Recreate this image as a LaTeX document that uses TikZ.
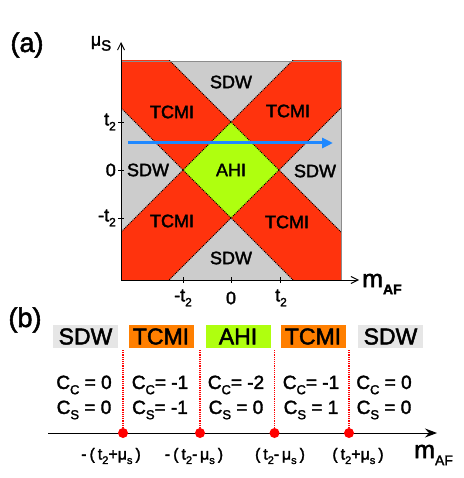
\documentclass[tikz,border=0pt]{standalone}
\usepackage{fontspec}
\setmainfont{Liberation Sans}[FakeBold=2]
\usetikzlibrary{arrows.meta}
\definecolor{tred}{RGB}{255,51,13}
\definecolor{tgreen}{RGB}{175,255,15}
\definecolor{tgray}{RGB}{204,204,204}
\definecolor{lgray}{RGB}{230,230,230}
\definecolor{torange}{RGB}{255,127,0}
\definecolor{tblue}{RGB}{30,136,255}
\definecolor{frame}{RGB}{140,140,140}
\newcommand{\fs}[1]{\fontsize{#1}{#1}\selectfont}
\newcommand{\lsub}[2]{\raisebox{-0.28em}{\fs{#1}#2}}
\newcommand{\lp}{\hspace{3pt}(\hspace{3pt}}
\newcommand{\rp}{\hspace{3pt})}
\begin{document}
\begin{tikzpicture}[x=1pt,y=-1pt,
  lbl/.style={inner sep=0pt,font=\fs{18}},
  tick/.style={line width=0.9pt},
  axis/.style={line width=1pt,-{Straight Barb[length=7pt,width=7pt]}},
  bdot/.style={densely dotted,line width=1pt},
  phase/.style={inner sep=0pt,minimum width=65pt,minimum height=23pt,font=\fs{23}},
  cl/.style={inner sep=0pt,font=\fs{19},anchor=center},
  pl/.style={inner sep=0pt,font=\fs{16}},
  rline/.style={red,densely dotted,line width=1.2pt},
  rdot/.style={circle,fill=red,inner sep=0pt,minimum size=10pt}]
\useasboundingbox (0,0) rectangle (463,478);
% ---------------- panel (a)
\node[inner sep=0pt,font=\fs{27}] (la) at (27,45) {(a)};
\coordinate (o) at (121,280);
\coordinate (ytop) at (121,42);
\coordinate (xend) at (359,280);
\fill[tgray] (121,61) rectangle (341,280);
\begin{scope}
  \clip (121,61) rectangle (341,280);
  \fill[tred] (100,-9) -- (400,291) -- (400,387) -- (100,87) -- cycle;
  \fill[tred] (100,253) -- (400,-47) -- (400,49) -- (100,349) -- cycle;
  \fill[tgreen] (183,170) -- (231,122) -- (279,170) -- (231,218) -- cycle;
  \draw[bdot] (100,87) -- (400,387);
  \draw[bdot] (100,-9) -- (400,291);
  \draw[bdot] (100,253) -- (400,-47);
  \draw[bdot] (100,349) -- (400,49);
\end{scope}
\draw[frame,line width=0.8pt] (121,61) -- (341,61) -- (341,280);
\draw[axis] (o) -- (ytop);
\draw[axis] (o) -- (xend);
\node[lbl,anchor=south] (mus) at (101,51) {μ\lsub{15}{S}};
\node[lbl,anchor=west] (maf) at (362,284) {\fs{25}m\lsub{14}{\bfseries AF}};
% ticks
\foreach \y in {122,170,218}{\draw[tick] (118,\y) -- (124,\y);}
\foreach \x in {183,231,280}{\draw[tick] (\x,277) -- (\x,283);}
\node[lbl,anchor=east] (yt2) at (116,122) {t\lsub{12}{2}};
\node[lbl,anchor=east] (y0) at (116,170) {0};
\node[lbl,anchor=east] (ymt2) at (116,218) {-t\lsub{12}{2}};
\node[lbl] (xmt2) at (183,298) {-t\lsub{12}{2}};
\node[lbl] (x0) at (231,298) {0};
\node[lbl] (xt2) at (281,298) {t\lsub{12}{2}};
% phase labels
\node[lbl] (sdwt) at (231,82) {SDW};
\node[lbl] (tcmi1) at (172,112) {TCMI};
\node[lbl] (tcmi2) at (288,111) {TCMI};
\node[lbl] (sdwl) at (148,170) {SDW};
\node[lbl] (ahi) at (231,170) {AHI};
\node[lbl] (sdwr) at (315,171) {SDW};
\node[lbl] (tcmi3) at (172,221) {TCMI};
\node[lbl] (tcmi4) at (287,222) {TCMI};
\node[lbl] (sdwb) at (231,258) {SDW};
% blue arrow
\coordinate (bs) at (128,143);
\coordinate (be) at (333,143);
\draw[tblue,line width=3pt,-{Triangle[length=11pt,width=10pt]}] (bs) -- (be);
% ---------------- panel (b)
\node[inner sep=0pt,font=\fs{27}] (lb) at (25,320) {(b)};
\node[phase,fill=lgray] (p1) at (85.5,336.5) {SDW};
\node[phase,fill=torange] (p2) at (161,336.5) {TCMI};
\node[phase,fill=tgreen] (p3) at (238,336.5) {AHI};
\node[phase,fill=torange] (p4) at (313,336.5) {TCMI};
\node[phase,fill=lgray] (p5) at (390.5,336.5) {SDW};
\node[cl] (c1) at (84,385) {C\lsub{13}{C} = 0};
\node[cl] (s1) at (84,410) {C\lsub{13}{S} = 0};
\node[cl] (c2) at (160,385) {C\lsub{13}{C}= -1};
\node[cl] (s2) at (160,410) {C\lsub{13}{S}= -1};
\node[cl] (c3) at (236,385) {C\lsub{13}{C}= -2};
\node[cl] (s3) at (236,410) {C\lsub{13}{S} = 0};
\node[cl] (c4) at (311,385) {C\lsub{13}{C}= -1};
\node[cl] (s4) at (311,410) {C\lsub{13}{S} = 1};
\node[cl] (c5) at (384,385) {C\lsub{13}{C} = 0};
\node[cl] (s5) at (384,410) {C\lsub{13}{S} = 0};
\coordinate (as) at (48,433);
\coordinate (ae) at (437,433);
\draw[line width=1pt,-{Stealth[length=12pt,width=9pt,inset=4pt]}] (as) -- (ae);
\foreach \i/\x in {1/123,2/200,3/274.5,4/349}{
  \coordinate (v\i) at (\x,350);
  \node[rdot] (d\i) at (\x,433) {};
  \draw[rline] (v\i) -- (d\i);
}
\node[pl] (q1) at (111,456) {-\lp t\lsub{11}{2}+μ\lsub{11}{s}\rp};
\node[pl] (q2) at (194,456) {-\lp t\lsub{11}{2}-\,μ\lsub{11}{s}\rp};
\node[pl] (q3) at (280,456) {(\hspace{3pt}t\lsub{11}{2}-\,μ\lsub{11}{s}\rp};
\node[pl] (q4) at (358,456) {(\hspace{3pt}t\lsub{11}{2}+μ\lsub{11}{s}\rp};
\node[lbl,anchor=west] (maf2) at (414,455) {\fs{25}m\lsub{14}{AF}};
\end{tikzpicture}
\end{document}
